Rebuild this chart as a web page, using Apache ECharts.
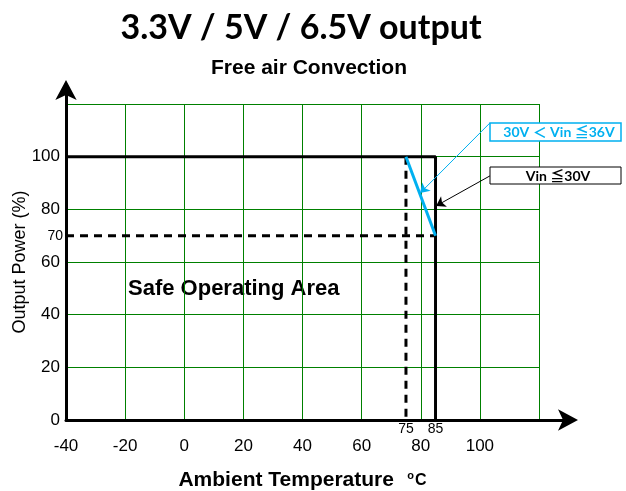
<!DOCTYPE html>
<html><head><meta charset="utf-8">
<script src="https://cdn.jsdelivr.net/npm/echarts@6/dist/echarts.min.js"></script>
<style>html,body{margin:0;padding:0;background:#fff}#c{width:626px;height:491px}</style>
</head><body><div id="c"></div>
<script>
// ---- data ----
const xTicks = [-40, -20, 0, 20, 40, 60, 80, 100];
const yTicks = [0, 20, 40, 60, 80, 100];
const extraXTicks = [75, 85];
const extraYTicks = [70];
const vin30X = [-40, 85, 85];
const vin30Y = [100, 100, 0];
const dashHX = [-40, 85];
const dashHY = [70, 70];
const dashVX = [75, 75];
const dashVY = [100, 0];
const vin36X = [75, 85];
const vin36Y = [100, 70];
const arrowBlue = [[103.4, 112.8], [79.8, 86.2]];
const arrowBlack = [[103.4, 92.7], [85.2, 81.3]];
const titleText = '3.3V / 5V / 6.5V output';
const subtitleText = 'Free air Convection';
const label36 = '30V \uFF1C Vin \u226636V';
const label30 = 'Vin \u226630V';
const areaText = 'Safe Operating Area';
const yName = 'Output Power (%)';

const zip = (xs, ys) => xs.map((x, i) => [x, ys[i]]);
const GREEN = '#008000';
const BLUE = '#00b0f0';
const SANS = '"Liberation Sans", Arial, sans-serif';

const chart = echarts.init(document.getElementById('c'));
chart.setOption({
  animation: false,
  backgroundColor: '#fff',
  grid: [
    { left: 66, right: 87, top: 104, bottom: 71, containLabel: false, outerBoundsMode: 'none' },
    { left: 66, right: 54, top: 86, bottom: 71, containLabel: false, outerBoundsMode: 'none' }
  ],
  xAxis: [
    {
      gridIndex: 0, type: 'value', min: -40, max: 120, interval: 20, position: 'bottom',
      axisLine: { show: false }, axisTick: { show: false },
      axisLabel: { fontSize: 17, color: '#000', fontFamily: SANS, margin: 18,
        formatter: v => xTicks.includes(v) ? String(v) : '' },
      splitLine: { show: true, lineStyle: { color: GREEN, width: 1 } },
      name: '{a|Ambient Temperature}    {s|o}{c|C}',
      nameLocation: 'middle', nameGap: 50, nameMoveOverlap: false,
      nameTextStyle: {
        rich: {
          a: { fontSize: 21, fontWeight: 'bold', fontFamily: SANS, color: '#000' },
          s: { fontSize: 11, fontWeight: 'bold', fontFamily: SANS, color: '#000', verticalAlign: 'top', padding: [0, 1, 6, 0] },
          c: { fontSize: 16, fontWeight: 'bold', fontFamily: SANS, color: '#000' }
        }
      }
    },
    {
      gridIndex: 0, type: 'value', min: -40, max: 120, interval: 5, position: 'bottom',
      axisLine: { show: false }, axisTick: { show: false }, splitLine: { show: false },
      axisLabel: { fontSize: 14, color: '#000', fontFamily: SANS, margin: 2,
        formatter: v => extraXTicks.includes(v) ? String(v) : '' }
    },
    {
      gridIndex: 1, type: 'value', min: 0, max: 1, position: 'bottom',
      axisLine: { show: true, lineStyle: { color: '#000', width: 3 }, symbol: ['none', 'arrow'], symbolSize: [16, 20], symbolOffset: [0, 6] },
      axisTick: { show: false }, axisLabel: { show: false }, splitLine: { show: false }
    }
  ],
  yAxis: [
    {
      gridIndex: 0, type: 'value', min: 0, max: 120, interval: 20, position: 'left',
      axisLine: { show: false }, axisTick: { show: false },
      axisLabel: { fontSize: 17, color: '#000', fontFamily: SANS, margin: 6,
        formatter: v => yTicks.includes(v) ? String(v) : '' },
      splitLine: { show: true, lineStyle: { color: GREEN, width: 1 } },
      name: yName, nameLocation: 'middle', nameGap: 37, nameRotate: 90, nameMoveOverlap: false,
      nameTextStyle: { fontSize: 18, fontFamily: SANS, color: '#000' }
    },
    {
      gridIndex: 0, type: 'value', min: 0, max: 120, interval: 10, position: 'left',
      axisLine: { show: false }, axisTick: { show: false }, splitLine: { show: false },
      axisLabel: { fontSize: 14, color: '#000', fontFamily: SANS, margin: 3,
        formatter: v => extraYTicks.includes(v) ? String(v) : '' }
    },
    {
      gridIndex: 1, type: 'value', min: 0, max: 1, position: 'left',
      axisLine: { show: true, lineStyle: { color: '#000', width: 3 }, symbol: ['none', 'arrow'], symbolSize: [16, 20], symbolOffset: [0, 6] },
      axisTick: { show: false }, axisLabel: { show: false }, splitLine: { show: false }
    }
  ],
  series: [
    {
      type: 'line', xAxisIndex: 0, yAxisIndex: 0, data: zip(dashHX, dashHY),
      symbol: 'none', lineStyle: { color: '#000', width: 3, type: [8, 6] }, z: 3
    },
    {
      type: 'line', xAxisIndex: 0, yAxisIndex: 0, data: zip(dashVX, dashVY),
      symbol: 'none', lineStyle: { color: '#000', width: 3, type: [8, 6] }, z: 3
    },
    {
      type: 'line', xAxisIndex: 0, yAxisIndex: 0, data: zip(vin30X, vin30Y),
      symbol: 'none', lineStyle: { color: '#000', width: 3 }, z: 4,
      markLine: {
        silent: true, symbol: ['none', 'arrow'], symbolSize: 9,
        label: { show: false },
        lineStyle: { color: '#000', width: 1, type: 'solid' },
        data: [[{ coord: arrowBlack[0] }, { coord: arrowBlack[1] }]]
      }
    },
    {
      type: 'line', xAxisIndex: 0, yAxisIndex: 0, data: zip(vin36X, vin36Y),
      symbol: 'none', lineStyle: { color: BLUE, width: 3 }, z: 5,
      markLine: {
        silent: true, symbol: ['none', 'arrow'], symbolSize: 9,
        label: { show: false },
        lineStyle: { color: BLUE, width: 1, type: 'solid' },
        data: [[{ coord: arrowBlue[0] }, { coord: arrowBlue[1] }]]
      }
    }
  ],
  graphic: [
    { type: 'text', x: 301, y: 28, style: { text: titleText, fontSize: 34, fontWeight: 'bold', fontFamily: 'Lato, "Open Sans", sans-serif', fill: '#000', textAlign: 'center', textVerticalAlign: 'middle' } },
    { type: 'text', x: 309, y: 68, style: { text: subtitleText, fontSize: 21, fontWeight: 'bold', fontFamily: SANS, fill: '#000', textAlign: 'center', textVerticalAlign: 'middle' } },
    { type: 'text', x: 128, y: 289, style: { text: areaText, fontSize: 22, fontWeight: 'bold', fontFamily: SANS, fill: '#000', textAlign: 'left', textVerticalAlign: 'middle' } },
    { type: 'rect', shape: { x: 490, y: 123, width: 131, height: 18 }, style: { fill: '#fff', stroke: BLUE, lineWidth: 1.5 }, z: 10 },
    { type: 'text', x: 559, y: 132, z: 11, style: { text: label36, fontSize: 14, fontWeight: 'bold', fontFamily: 'Lato, "Noto Sans CJK SC", sans-serif', fill: BLUE, textAlign: 'center', textVerticalAlign: 'middle' } },
    { type: 'rect', shape: { x: 490, y: 167, width: 131, height: 17 }, style: { fill: '#fff', stroke: '#000', lineWidth: 1 }, z: 10 },
    { type: 'text', x: 558, y: 176, z: 11, style: { text: label30, fontSize: 14, fontWeight: 'bold', fontFamily: 'Lato, "Noto Sans CJK SC", sans-serif', fill: '#000', textAlign: 'center', textVerticalAlign: 'middle' } }
  ]
});
</script></body></html>
